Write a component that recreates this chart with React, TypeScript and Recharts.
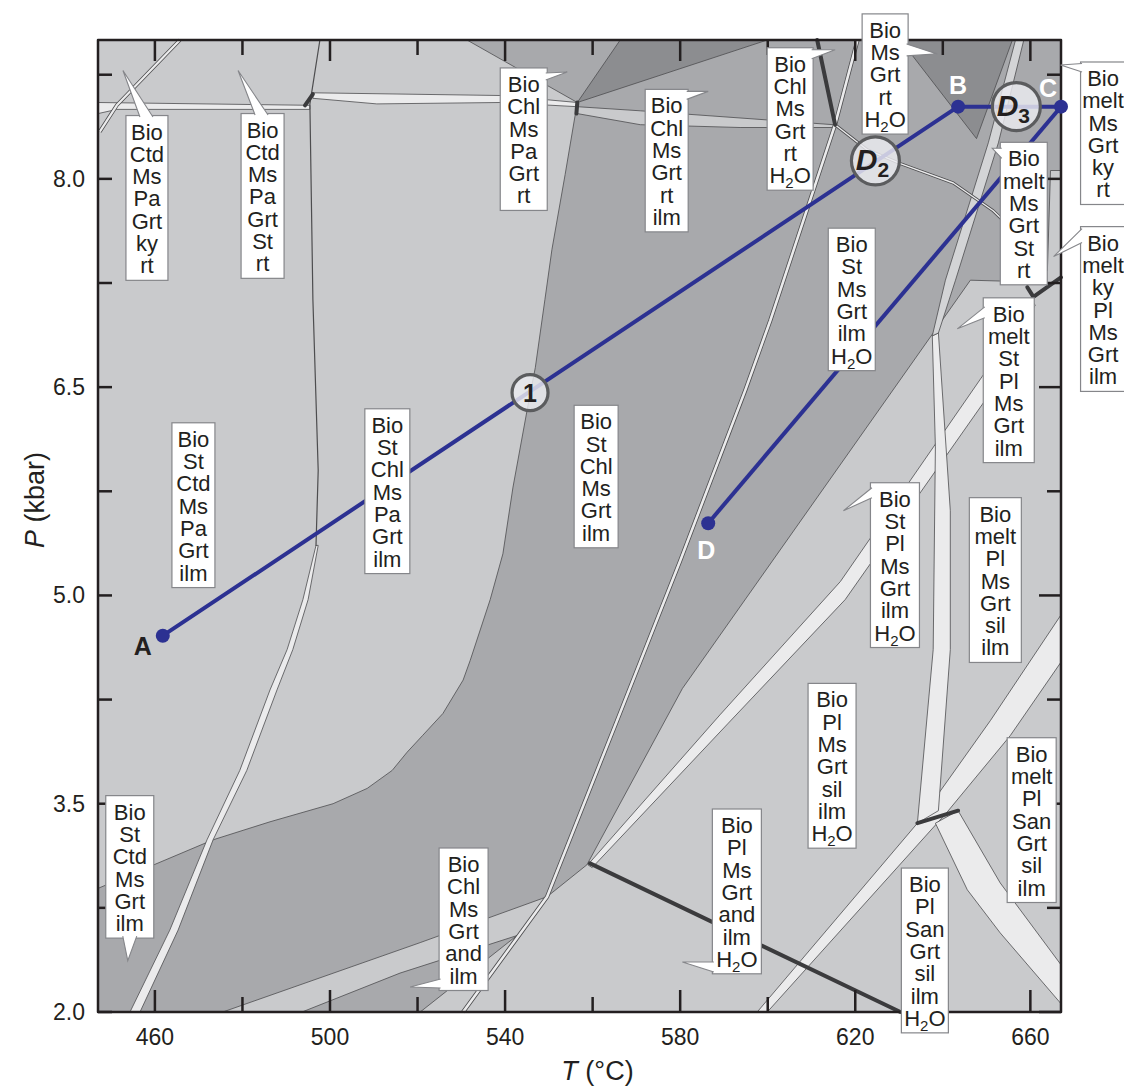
import React from "react";
import { ComposedChart, Scatter, XAxis, YAxis, Label } from "recharts";

// axis ticks
const tTicks = [460, 480, 500, 520, 540, 560, 580, 600, 620, 640, 660];
const tLabelled = [460, 500, 540, 580, 620, 660];
const pTicks = [2, 2.75, 3.5, 4.25, 5, 5.75, 6.5, 7.25, 8, 8.75];
const pLabelled = [2, 3.5, 5, 6.5, 8];

// field outlines, [T (°C), P (kbar)]
const wholeField = [[447, 2], [667, 2], [667, 9], [447, 9]];
const midField = [
  [447.0, 2.89], [473.3, 3.24], [486.3, 3.37], [500.7, 3.5], [508.5, 3.61], [514.2, 3.74],
  [517.6, 3.87], [521.1, 3.99], [525.8, 4.15], [530.4, 4.39], [532.0, 4.53], [536.6, 4.97],
  [539.5, 5.3], [541.8, 5.78], [545.0, 6.33], [546.9, 6.64], [549.1, 7.13], [550.7, 7.49],
  [553.7, 8.03], [556.5, 8.55],
  [531.3, 9.0], [667, 9.0], [667, 8.06], [664.6, 8.06], [663.9, 7.34], [657.7, 7.26],
  [646.3, 7.27], [637.8, 6.89], [580.5, 4.33], [558.7, 3.06], [549.6, 2.83], [520.6, 2.5],
  [475.5, 2.0], [447.0, 2.0],
];
const darkTop = [[556.5, 8.55], [566.3, 9.0], [599.9, 9.0]];
const darkCorner = [[630.3, 9.0], [655.9, 9.0], [647.7, 8.29]];
const lowWedge = [[493.6, 2.0], [516.0, 2.28], [542.7, 2.55], [520.6, 2.0]];

// narrow fields (pale bands)
const ctdBand = [
  [496.8, 5.36], [493.8, 4.97], [490.2, 4.61], [486.3, 4.32], [479.4, 3.74], [471.9, 3.24],
  [463.4, 2.59], [454.3, 2.0], [456.6, 2.0], [465.3, 2.59], [473.3, 3.24], [481.0, 3.74],
  [487.9, 4.32], [491.5, 4.61], [495.0, 4.97], [497.3, 5.36],
];
const meltBandLow = [
  [634.2, 3.36], [637.8, 4.61], [638.3, 6.07], [637.6, 6.87],
  [639.0, 6.89], [641.7, 5.61], [641.7, 4.61], [639.0, 3.45],
];
const meltBandHigh = [
  [637.6, 6.87], [640.6, 7.27], [650.4, 8.26], [656.6, 9.0],
  [658.5, 9.0], [652.7, 8.26], [642.9, 7.27], [639.0, 6.89],
];
const plBand = [
  [558.9, 3.06], [589.1, 4.14], [616.6, 5.1], [649.3, 6.59], [660.0, 7.14],
  [661.1, 7.09], [650.9, 6.46], [617.7, 4.97], [591.0, 4.08], [559.9, 3.04],
];
const sanBand = [
  [597.6, 2.0], [634.2, 3.36], [650.9, 4.1], [667, 4.86],
  [667, 4.52], [655.4, 3.99], [641.0, 3.44], [599.9, 2.0],
];
const silBand = [
  [643.5, 3.45], [653.1, 2.93], [667, 2.34], [667, 2.06], [653.1, 2.57], [645.6, 2.88], [638.3, 3.36],
];
const rtBand = [
  [556.5, 8.52], [570.9, 8.49], [615.0, 8.39], [615.0, 8.37], [593.7, 8.37], [570.9, 8.39], [556.5, 8.47],
];
const topLeftBand = [[447, 8.55], [495.4, 8.53], [495.4, 8.5], [451.3, 8.5], [447, 8.47]];
const topMidBand = [
  [496.1, 8.62], [538.9, 8.6], [556.5, 8.55], [556.5, 8.52], [538.9, 8.55], [510.7, 8.54], [496.1, 8.58],
];

// single and double boundary lines
const ctdLine = [[497.7, 9.0], [495.4, 8.54], [496.1, 7.13], [497.3, 5.9], [496.8, 5.36]];
const chlLine = [
  [530.4, 2.0], [549.6, 2.83], [565.6, 4.1], [580.0, 5.25], [594.9, 6.48], [600.6, 6.98], [615.4, 8.39], [620.5, 9.0],
];
const kyLine = [[447.4, 8.34], [451.3, 8.53], [465.7, 9.0]];
const d2Line = [[615.4, 8.39], [622.7, 8.21], [630.3, 8.11], [642.4, 7.97], [651.5, 7.77], [660.7, 7.49]];

// heavy univariant lines
const heavyLines = [
  [[559.4, 3.07], [630.3, 2.0]],
  [[634.2, 3.36], [643.5, 3.45]],
  [[611.3, 9.0], [615.4, 8.39]],
  [[659.3, 7.22], [660.7, 7.15], [667, 7.29]],
  [[494.3, 8.53], [496.1, 8.61]],
  [[556.5, 8.55], [556.3, 8.47]],
];

// P-T path
const ptA = [461.8, 4.71];
const ptB = [643.5, 8.52];
const ptC = [667, 8.52];
const ptD = [586.4, 5.52];
const pathNames = ["A", "B", "C", "D"];
const stageAt = [[545.7, 6.46], [624.6, 8.13], [656.8, 8.52]];
const stageTags = ["1", "2", "3"];

// field labels
const fieldNames: string[][] = [
  ["Bio", "Ctd", "Ms", "Pa", "Grt", "ky", "rt"],
  ["Bio", "Ctd", "Ms", "Pa", "Grt", "St", "rt"],
  ["Bio", "Chl", "Ms", "Pa", "Grt", "rt"],
  ["Bio", "Chl", "Ms", "Grt", "rt", "ilm"],
  ["Bio", "Chl", "Ms", "Grt", "rt", "H2O"],
  ["Bio", "Ms", "Grt", "rt", "H2O"],
  ["Bio", "melt", "Ms", "Grt", "ky", "rt"],
  ["Bio", "melt", "Ms", "Grt", "St", "rt"],
  ["Bio", "melt", "ky", "Pl", "Ms", "Grt", "ilm"],
  ["Bio", "melt", "St", "Pl", "Ms", "Grt", "ilm"],
  ["Bio", "St", "Ms", "Grt", "ilm", "H2O"],
  ["Bio", "St", "Pl", "Ms", "Grt", "ilm", "H2O"],
  ["Bio", "melt", "Pl", "Ms", "Grt", "sil", "ilm"],
  ["Bio", "Pl", "Ms", "Grt", "sil", "ilm", "H2O"],
  ["Bio", "melt", "Pl", "San", "Grt", "sil", "ilm"],
  ["Bio", "Pl", "San", "Grt", "sil", "ilm", "H2O"],
  ["Bio", "Pl", "Ms", "Grt", "and", "ilm", "H2O"],
  ["Bio", "Chl", "Ms", "Grt", "and", "ilm"],
  ["Bio", "St", "Ctd", "Ms", "Grt", "ilm"],
  ["Bio", "St", "Ctd", "Ms", "Pa", "Grt", "ilm"],
  ["Bio", "St", "Chl", "Ms", "Pa", "Grt", "ilm"],
  ["Bio", "St", "Chl", "Ms", "Grt", "ilm"],
];
const fieldNameAt = [
  [452.7, 8.78], [479.0, 8.78], [554.2, 8.77], [586.4, 8.63], [615.4, 8.93], [638.7, 8.9],
  [666.9, 8.82], [651.3, 8.22], [665.3, 7.44], [643.3, 6.92], [619.2, 7.13], [617.3, 5.61],
  [652.0, 5.11], [614.7, 3.74], [660.3, 3.41], [635.9, 2.41], [580.5, 2.36], [518.3, 2.18],
  [453.8, 2.37], [468.8, 5.66], [513.1, 5.75], [560.8, 5.84],
];

// label box placement in px relative to its anchor (tab tip or box centre)
const nameBoxes: { dx: number; dy: number; w: number; tab?: number[][] }[] = [
  { dx: 3, dy: 45, w: 42, tab: [[17, 46.5], [30, 46.5]] },
  { dx: 3, dy: 43, w: 43, tab: [[17, 44.5], [30, 44.5]] },
  { dx: -67, dy: -4, w: 47, tab: [[-21.5, 1], [-21.5, 8]] },
  { dx: -63, dy: -2, w: 43, tab: [[-21.5, 0], [-21.5, 8]] },
  { dx: -68, dy: -2, w: 46, tab: [[-23.5, 0], [-23.5, 9]] },
  { dx: -75, dy: -40, w: 46, tab: [[-30.5, -10], [-30.5, 2]] },
  { dx: 20, dy: -3, w: 45, tab: [[21.5, -1.5], [21.5, 7]] },
  { dx: 8, dy: -6, w: 47, tab: [[9.5, 0], [9.5, 10]] },
  { dx: 27, dy: -30, w: 45, tab: [[28.5, -28], [28.5, -14]] },
  { dx: 26, dy: -31, w: 51, tab: [[27.5, -22], [27.5, -11]] },
  { dx: -23.5, dy: -71.5, w: 47 },
  { dx: 27, dy: -28, w: 49, tab: [[28.5, -23], [28.5, -13]] },
  { dx: -26, dy: -82.5, w: 52 },
  { dx: -24, dy: -87, w: 48 },
  { dx: -24.5, dy: -78.5, w: 49 },
  { dx: -23.5, dy: -87, w: 47 },
  { dx: 30, dy: -153, w: 49, tab: [[31.5, 0], [31.5, 10]] },
  { dx: 29, dy: -139, w: 49, tab: [[30.5, -8], [30.5, 1]] },
  { dx: -22, dy: -165, w: 48, tab: [[-5, -24.5], [9, -24.5]] },
  { dx: -21.5, dy: -81, w: 43 },
  { dx: -22.5, dy: -82.5, w: 45 },
  { dx: -22, dy: -73.5, w: 44 },
];
const nameOffsets = [[-20, 10], [0, -22], [-13, -19], [-2, 27]];

const FONT = '"Liberation Sans", Arial, Helvetica, sans-serif';
const LIGHT = "#c9cacc";
const MID = "#a8a9ac";
const DARK = "#8c8d90";
const PALE = "#ebebec";
const EDGE = "#4d4d4f";
const HEAVY = "#3b3b3d";
const INK = "#231f20";
const NAVY = "#2c3192";
const TAG_EDGE = "#85868a";

const W = 1124;
const H = 1088;
const PLOT = { left: 98, top: 40, width: 963, height: 972 };
const LINE_GAP = 22.3;

const asPts = (rows: number[][]) => rows.map(([T, P]) => ({ T, P }));
const pathOf = (pts: any[], closed: boolean) =>
  pts.map((p, i) => `${i ? "L" : "M"}${p.x.toFixed(1)},${p.y.toFixed(1)}`).join("") + (closed ? "Z" : "");
const noDot = () => <g />;

function area(key: string, rows: number[][], fill: string, stroke = EDGE, sw = 0.8) {
  return (
    <Scatter
      key={key}
      data={asPts(rows)}
      shape={noDot}
      isAnimationActive={false}
      line={(lp: any) => (
        <path d={pathOf(lp.points, true)} fill={fill} stroke={stroke} strokeWidth={sw} strokeLinejoin="round" />
      )}
    />
  );
}

function rule(key: string, rows: number[][], stroke: string, sw: number) {
  return (
    <Scatter
      key={key}
      data={asPts(rows)}
      shape={noDot}
      isAnimationActive={false}
      line={(lp: any) => (
        <path d={pathOf(lp.points, false)} fill="none" stroke={stroke} strokeWidth={sw} strokeLinejoin="round" strokeLinecap="round" />
      )}
    />
  );
}

function doubleRule(key: string, rows: number[][], inner: number) {
  return (
    <Scatter
      key={key}
      data={asPts(rows)}
      shape={noDot}
      isAnimationActive={false}
      line={(lp: any) => {
        const d = pathOf(lp.points, false);
        return (
          <g>
            <path d={d} fill="none" stroke={EDGE} strokeWidth={inner + 1.6} strokeLinejoin="round" />
            <path d={d} fill="none" stroke={PALE} strokeWidth={inner} strokeLinejoin="round" />
          </g>
        );
      }}
    />
  );
}

function TickMark(props: any) {
  const { cx, cy, payload } = props;
  return <line x1={cx} y1={cy} x2={cx + payload.dx} y2={cy + payload.dy} stroke={INK} strokeWidth={2.5} />;
}

function BottomTickLabel(props: any) {
  const { x, y, payload } = props;
  if (!tLabelled.includes(payload.value)) return <g />;
  return (
    <text x={x} y={y + 33} textAnchor="middle" fontSize={23} fontFamily={FONT} fill={INK}>
      {payload.value}
    </text>
  );
}

function LeftTickLabel(props: any) {
  const { x, y, payload } = props;
  if (!pLabelled.includes(payload.value)) return <g />;
  return (
    <text x={x - 13} y={y + 8} textAnchor="end" fontSize={23} fontFamily={FONT} fill={INK}>
      {Number(payload.value).toFixed(1)}
    </text>
  );
}

function lineText(s: string) {
  if (s !== "H2O") return s;
  return (
    <>
      H
      <tspan fontSize={15} dy={5}>2</tspan>
      <tspan dy={-5}>O</tspan>
    </>
  );
}

function NameTag(props: any) {
  const { cx, cy, payload } = props;
  const i = payload.i;
  const lines = fieldNames[i];
  const b = nameBoxes[i];
  const h = 31 + (lines.length - 1) * LINE_GAP;
  const x = cx + b.dx;
  const y = cy + b.dy;
  const tab = b.tab
    ? `M${cx + b.tab[0][0]},${cy + b.tab[0][1]}L${cx},${cy}L${cx + b.tab[1][0]},${cy + b.tab[1][1]}`
    : null;
  return (
    <g>
      <rect x={x} y={y} width={b.w} height={h} fill="#fff" stroke={TAG_EDGE} strokeWidth={1.2} />
      {tab && <path d={tab} fill="#fff" stroke={TAG_EDGE} strokeWidth={1.1} strokeLinejoin="miter" />}
      <text textAnchor="middle" fontSize={22} fontFamily={FONT} fill={INK}>
        {lines.map((s, k) => (
          <tspan key={k} x={x + b.w / 2} y={y + 24 + k * LINE_GAP}>
            {lineText(s)}
          </tspan>
        ))}
      </text>
    </g>
  );
}

function StageMark(props: any) {
  const { cx, cy, payload } = props;
  const tag = payload.tag;
  const big = tag !== "1";
  return (
    <g>
      <circle cx={cx} cy={cy} r={big ? 24 : 18} fill="#ececf0" fillOpacity={0.82} stroke="#5b5c5e" strokeWidth={3.2} />
      {big ? (
        <text x={cx - 3} y={cy + 9} textAnchor="middle" fontFamily={FONT} fontWeight="bold" fontStyle="italic" fontSize={30} fill={INK}>
          D
          <tspan fontSize={21} dy={7} fontStyle="normal">{tag}</tspan>
        </text>
      ) : (
        <text x={cx} y={cy + 9} textAnchor="middle" fontFamily={FONT} fontWeight="bold" fontSize={25} fill={INK}>
          1
        </text>
      )}
    </g>
  );
}

function PathDot(props: any) {
  const { cx, cy, payload } = props;
  const [ox, oy] = nameOffsets[payload.i];
  return (
    <g>
      <circle cx={cx} cy={cy} r={7} fill={NAVY} />
      <text
        x={cx + ox}
        y={cy + oy + 9}
        textAnchor="middle"
        fontFamily={FONT}
        fontWeight="bold"
        fontSize={25}
        fill={payload.i === 0 ? INK : "#ffffff"}
      >
        {pathNames[payload.i]}
      </text>
    </g>
  );
}

export default function App() {
  const tickMarks = [
    ...tTicks.map((T) => ({ T, P: 2, dx: 0, dy: -(tLabelled.includes(T) ? 22 : 15) })),
    ...tTicks.map((T) => ({ T, P: 9, dx: 0, dy: tLabelled.includes(T) ? 21 : 15 })),
    ...pTicks.map((P) => ({ T: 447, P, dx: 14, dy: 0 })),
    ...pTicks.map((P) => ({ T: 667, P, dx: pLabelled.includes(P) ? -22 : -14, dy: 0 })),
  ];
  const dots = [ptA, ptB, ptC, ptD].map(([T, P], i) => ({ T, P, i }));
  const stages = stageAt.map(([T, P], i) => ({ T, P, tag: stageTags[i] }));
  const tags = fieldNameAt.map(([T, P], i) => ({ T, P, i }));

  return (
    <div style={{ width: W, height: H, fontFamily: FONT, overflow: "hidden", background: "#fff" }}>
      <style>{"html,body{margin:0;padding:0;overflow:hidden}#root{width:1124px;height:1088px}"}</style>
      <ComposedChart width={W} height={H} margin={{ top: PLOT.top, right: W - PLOT.left - PLOT.width, bottom: 0, left: 0 }}>
        <XAxis
          dataKey="T"
          type="number"
          domain={[447, 667]}
          ticks={tTicks}
          interval={0}
          height={H - PLOT.top - PLOT.height}
          axisLine={false}
          tickLine={false}
          tickSize={0}
          tickMargin={0}
          tick={(p: any) => <BottomTickLabel {...p} />}
        >
          <Label
            content={() => (
              <text x={PLOT.left + PLOT.width / 2 + 18} y={1080} textAnchor="middle" fontSize={27} fontFamily={FONT} fill={INK}>
                <tspan fontStyle="italic">T</tspan>
                <tspan>{"\u00a0(°C)"}</tspan>
              </text>
            )}
          />
        </XAxis>
        <YAxis
          dataKey="P"
          type="number"
          domain={[2, 9]}
          ticks={pTicks}
          interval={0}
          width={PLOT.left}
          axisLine={false}
          tickLine={false}
          tickSize={0}
          tickMargin={0}
          tick={(p: any) => <LeftTickLabel {...p} />}
        >
          <Label
            content={() => (
              <text x={44} y={500} transform="rotate(-90 44 500)" textAnchor="middle" fontSize={27} fontFamily={FONT} fill={INK}>
                <tspan fontStyle="italic">P</tspan>
                <tspan>{"\u00a0(kbar)"}</tspan>
              </text>
            )}
          />
        </YAxis>

        {area("whole", wholeField, LIGHT, "none", 0)}
        {area("mid", midField, MID)}
        {area("darkTop", darkTop, DARK)}
        {area("darkCorner", darkCorner, DARK)}
        {area("wedge", lowWedge, MID)}
        {area("ctdBand", ctdBand, PALE)}
        {area("rtBand", rtBand, LIGHT)}
        {area("topLeftBand", topLeftBand, PALE)}
        {area("topMidBand", topMidBand, PALE)}
        {area("plBand", plBand, PALE)}
        {area("sanBand", sanBand, PALE)}
        {area("silBand", silBand, PALE)}
        {area("meltLow", meltBandLow, PALE)}
        {area("meltHigh", meltBandHigh, "#d3d4d6")}
        {rule("ctdLine", ctdLine, EDGE, 1.2)}
        {doubleRule("chlLine", chlLine, 2.6)}
        {doubleRule("kyLine", kyLine, 2.2)}
        {doubleRule("d2Line", d2Line, 1.4)}
        {heavyLines.map((l, i) => rule(`heavy${i}`, l, HEAVY, 4))}

        {area("frame", wholeField, "none", INK, 2.5)}
        <Scatter data={tickMarks} shape={TickMark} isAnimationActive={false} />

        <Scatter
          data={asPts([ptA, ptB, ptC])}
          shape={noDot}
          isAnimationActive={false}
          line={(lp: any) => <path d={pathOf(lp.points, false)} fill="none" stroke={NAVY} strokeWidth={4} strokeLinejoin="round" />}
        />
        <Scatter
          data={asPts([ptD, ptC])}
          shape={noDot}
          isAnimationActive={false}
          line={(lp: any) => <path d={pathOf(lp.points, false)} fill="none" stroke={NAVY} strokeWidth={4} />}
        />
        <Scatter data={stages} shape={StageMark} isAnimationActive={false} />
        <Scatter data={dots} shape={PathDot} isAnimationActive={false} />
        <Scatter data={tags} shape={NameTag} isAnimationActive={false} />
      </ComposedChart>
    </div>
  );
}
